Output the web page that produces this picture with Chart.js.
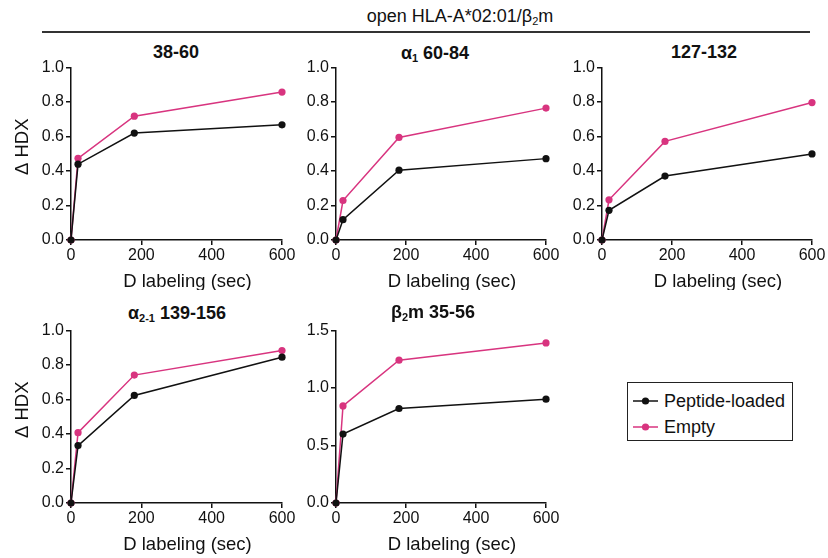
<!DOCTYPE html>
<html>
<head>
<meta charset="utf-8">
<script src="https://cdn.jsdelivr.net/npm/chart.js@4.4.1/dist/chart.umd.min.js"></script>
<style>
  body { margin: 0; background: #fff; font-family: "Liberation Sans", Arial, sans-serif; color: #111; }
  #wrap { position: relative; width: 828px; height: 558px; overflow: hidden; }
  canvas { position: absolute; }
  .ptitle { position: absolute; font-weight: bold; font-size: 18px; line-height: 22px; transform: translateX(-50%); white-space: nowrap; }
  .ptitle sub { font-size: 11px; vertical-align: -3px; line-height: 0; }
  #main sub { font-size: 11px; vertical-align: -3px; line-height: 0; }
  #main { position: absolute; left: 460px; top: 4px; font-size: 18px; line-height: 24px; transform: translateX(-50%); white-space: nowrap; }
  #rule { position: absolute; left: 42px; top: 31px; width: 768px; height: 2px; background: #333; }
  #legend { position: absolute; left: 627px; top: 382px; width: 164px; height: 57px; border: 1.5px solid #222; }
  .item { position: absolute; left: 5px; height: 24px; display: flex; align-items: center; font-size: 18px; }
  .item svg { margin-right: 6px; }
</style>
</head>
<body>
<div id="wrap">
  <div id="main">open HLA-A*02:01/β<sub>2</sub>m</div>
  <div id="rule"></div>
  <div id="legend"></div>
</div>
<script>
// sampling times (sec) and axis ticks
const times = [0, 20, 180, 600];
const xTicks = [0, 200, 400, 600];
const yTicksFrac = [0, 0.2, 0.4, 0.6, 0.8, 1.0];
const yTicksB2m = [0, 0.5, 1.0, 1.5];
const seriesNames = ['Peptide-loaded', 'Empty'];

// delta HDX per peptide
const loaded_38_60 = [0, 0.44, 0.62, 0.668];
const empty_38_60 = [0, 0.474, 0.718, 0.858];
const loaded_a1_60_84 = [0, 0.118, 0.405, 0.472];
const empty_a1_60_84 = [0, 0.229, 0.595, 0.765];
const loaded_127_132 = [0, 0.172, 0.371, 0.499];
const empty_127_132 = [0, 0.233, 0.572, 0.797];
const loaded_a21_139_156 = [0, 0.333, 0.624, 0.846];
const empty_a21_139_156 = [0, 0.408, 0.742, 0.884];
const loaded_b2m_35_56 = [0, 0.6, 0.822, 0.903];
const empty_b2m_35_56 = [0, 0.845, 1.243, 1.393];

const black = '#111111';
const pink = '#d8347f';
const FONT = '"Liberation Sans", Arial, sans-serif';

// draws the axis titles a bit off-centre, like the original figure
const axisTitles = {
    id: 'axisTitles',
    afterDraw(chart, args, opts) {
        const { ctx, chartArea } = chart;
        ctx.save();
        ctx.fillStyle = black;
        ctx.font = '18.5px ' + FONT;
        ctx.textAlign = 'center';
        ctx.textBaseline = 'middle';
        ctx.fillText('D labeling (sec)', (chartArea.left + chartArea.right) / 2 + 11, chartArea.bottom + 42);
        if (opts.yTitle) {
            ctx.translate(23, (chartArea.top + chartArea.bottom) / 2 - 7);
            ctx.rotate(-Math.PI / 2);
            ctx.fillText('\u0394 HDX', 0, 0);
        }
        ctx.restore();
    }
};

const panels = [
    { title: '38-60', tx: 176, ty: 52, left: 0, top: 56, w: 300, h: 234, yW: 71, padTop: 10, padRight: 18, plotH: 174, yMax: 1.0, yTicks: yTicksFrac, loaded: loaded_38_60, empty: empty_38_60, yTitle: true },
    { title: '\u03b1<sub>1</sub> 60-84', tx: 435, ty: 53, left: 290, top: 56, w: 274, h: 234, yW: 46, padTop: 10, padRight: 18, plotH: 174, yMax: 1.0, yTicks: yTicksFrac, loaded: loaded_a1_60_84, empty: empty_a1_60_84, yTitle: false },
    { title: '127-132', tx: 704, ty: 52, left: 560, top: 56, w: 268, h: 234, yW: 42, padTop: 10, padRight: 16, plotH: 174, yMax: 1.0, yTicks: yTicksFrac, loaded: loaded_127_132, empty: empty_127_132, yTitle: false },
    { title: '\u03b1<sub>2-1</sub> 139-156', tx: 177, ty: 313, left: 0, top: 319, w: 300, h: 239, yW: 71, padTop: 10, padRight: 18, plotH: 174, yMax: 1.0, yTicks: yTicksFrac, loaded: loaded_a21_139_156, empty: empty_a21_139_156, yTitle: true },
    { title: '\u03b2<sub>2</sub>m 35-56', tx: 433, ty: 312, left: 290, top: 319, w: 274, h: 239, yW: 46, padTop: 11, padRight: 18, plotH: 173, yMax: 1.5, yTicks: yTicksB2m, loaded: loaded_b2m_35_56, empty: empty_b2m_35_56, yTitle: false }
];

const wrap = document.getElementById('wrap');

const lineSet = (label, values, color) => ({
    label: label,
    data: values.map((v, i) => ({ x: times[i], y: v })),
    borderColor: color,
    backgroundColor: color,
    pointBackgroundColor: color,
    pointBorderWidth: 0,
    pointRadius: 3.6,
    borderWidth: 1.5,
    clip: false
});

const axisStyle = {
    grid: { display: true, drawOnChartArea: false, drawTicks: true, tickLength: 5, color: black, lineWidth: 1.5 },
    border: { display: true, color: black, width: 1.5 }
};

panels.forEach(p => {
    const t = document.createElement('div');
    t.className = 'ptitle';
    t.style.left = p.tx + 'px';
    t.style.top = (p.ty - 11) + 'px';
    t.innerHTML = p.title;
    wrap.appendChild(t);

    const canvas = document.createElement('canvas');
    canvas.width = p.w;
    canvas.height = p.h;
    canvas.style.left = p.left + 'px';
    canvas.style.top = p.top + 'px';
    wrap.appendChild(canvas);

    new Chart(canvas, {
        type: 'line',
        data: {
            datasets: [
                lineSet(seriesNames[0], p.loaded, black),
                lineSet(seriesNames[1], p.empty, pink)
            ]
        },
        plugins: [axisTitles],
        options: {
            responsive: false,
            animation: false,
            events: [],
            layout: { padding: { top: p.padTop, right: p.padRight, left: 0, bottom: 0 } },
            plugins: {
                legend: { display: false },
                tooltip: { enabled: false },
                axisTitles: { yTitle: p.yTitle }
            },
            scales: {
                x: {
                    type: 'linear',
                    min: 0,
                    max: 600,
                    ...axisStyle,
                    afterBuildTicks: ax => { ax.ticks = xTicks.map(v => ({ value: v })); },
                    afterFit: s => { s.height = p.h - p.padTop - p.plotH; },
                    ticks: { color: black, font: { family: FONT, size: 16 }, padding: 1, maxRotation: 0 }
                },
                y: {
                    type: 'linear',
                    min: 0,
                    max: p.yMax,
                    ...axisStyle,
                    afterBuildTicks: ax => { ax.ticks = p.yTicks.map(v => ({ value: v })); },
                    afterFit: s => { s.width = p.yW; },
                    ticks: { color: black, font: { family: FONT, size: 16 }, padding: 2, callback: v => Number(v).toFixed(1) }
                }
            }
        }
    });
});

// legend box
const legend = document.getElementById('legend');
[[seriesNames[0], black], [seriesNames[1], pink]].forEach(([name, color], i) => {
    const item = document.createElement('div');
    item.className = 'item';
    item.style.top = (6 + i * 26) + 'px';
    item.innerHTML = '<svg width="25" height="10"><line x1="0" y1="5" x2="25" y2="5" stroke="' + color +
        '" stroke-width="1.5"/><circle cx="12.5" cy="5" r="3.6" fill="' + color + '"/></svg><span>' + name + '</span>';
    legend.appendChild(item);
});
</script>
</body>
</html>
